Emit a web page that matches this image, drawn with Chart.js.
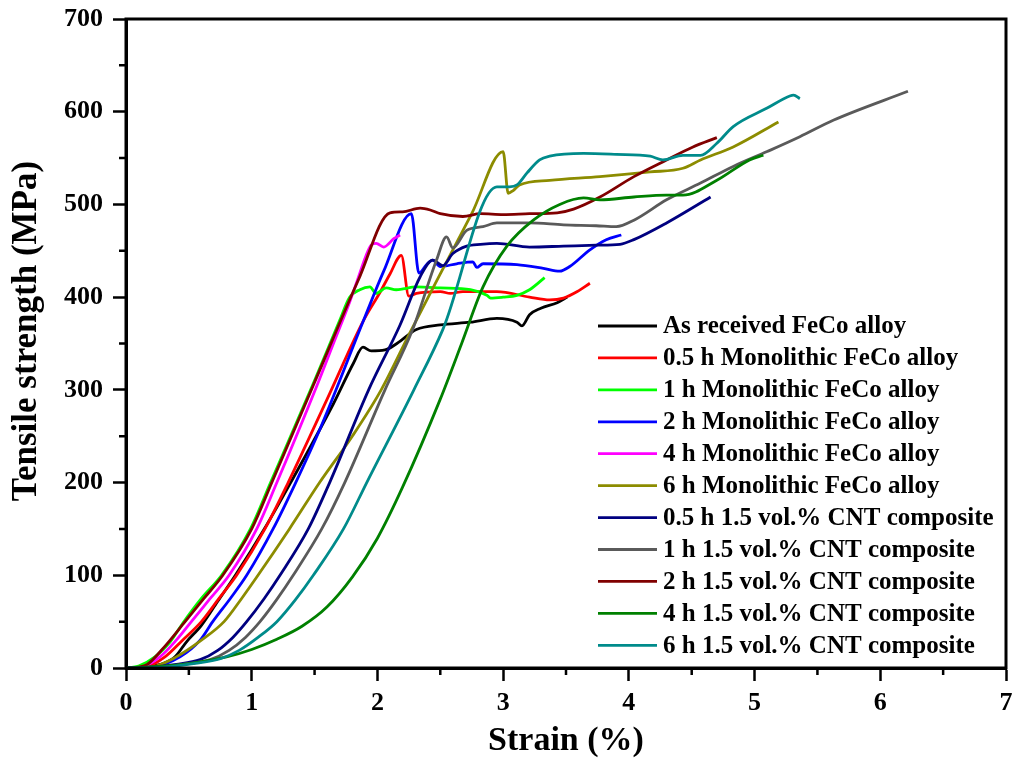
<!DOCTYPE html>
<html><head><meta charset="utf-8">
<script src="https://cdn.jsdelivr.net/npm/chart.js@4.4.1/dist/chart.umd.min.js"></script>
<style>html,body{margin:0;padding:0;background:#fff;}canvas{display:block;}</style>
</head><body>
<canvas id="c" width="1016" height="762"></canvas>
<script>
// ---------- data ----------
const seriesLabels = [
  'As received FeCo alloy',
  '0.5 h Monolithic FeCo alloy',
  '1 h Monolithic FeCo alloy',
  '2 h Monolithic FeCo alloy',
  '4 h Monolithic FeCo alloy',
  '6 h Monolithic FeCo alloy',
  '0.5 h 1.5 vol.% CNT composite',
  '1 h 1.5 vol.% CNT composite',
  '2 h 1.5 vol.% CNT composite',
  '4 h 1.5 vol.% CNT composite',
  '6 h 1.5 vol.% CNT composite'
];
const seriesColors = ['#000000','#ff0000','#00ff00','#0000ff','#ff00ff','#8c8c00','#000080','#5a5a5a','#800000','#008000','#008b8b'];

const xTicks = [0,1,2,3,4,5,6,7];
const yTicks = [0,100,200,300,400,500,600,700];

const asReceivedX = [0,0.15,0.3,0.39,0.48,0.6,0.73,0.87,1.1,1.31,1.65,1.81,1.885,1.95,2.06,2.155,2.31,2.5,2.74,2.95,3.11,3.15,3.21,3.3,3.43,3.51];
const asReceivedY = [0,1,5,12,28,46,72,100,150,200,285,329,346,342,343,350,365,370,373,377,373,369,381,388,394,400];

const mono05X = [0,0.15,0.31,0.45,0.6,0.74,0.88,1.105,1.29,1.6,1.89,2.02,2.1,2.19,2.25,2.31,2.5,2.58,2.68,2.95,3.21,3.37,3.48,3.59,3.69];
const mono05Y = [0,1,12,30,50,75,100,150,200,290,375,405,425,445,401,404,406,404,406,406,400,397,399,406,415];

const mono1X = [0,0.1,0.23,0.35,0.45,0.6,0.76,0.99,1.15,1.5,1.7,1.78,1.86,1.94,1.99,2.07,2.15,2.31,2.5,2.74,2.87,2.9,3.0,3.11,3.21,3.33];
const mono1Y = [0,2,12,28,48,75,100,150,200,310,375,400,408,411,404,410,408,411,410,408,402,399,400,402,408,421];

const mono2X = [0,0.2,0.43,0.59,0.69,0.83,0.96,1.17,1.35,1.55,1.89,2.05,2.27,2.33,2.39,2.44,2.5,2.63,2.76,2.79,2.84,3.11,3.32,3.45,3.53,3.69,3.82,3.94];
const mono2Y = [0,1,12,30,50,75,100,150,200,260,375,428,490,426,435,440,433,436,438,432,436,435,431,428,433,451,462,467];

const mono4X = [0,0.12,0.27,0.4,0.52,0.67,0.82,1.04,1.2,1.52,1.65,1.78,1.84,1.91,1.95,1.99,2.05,2.13,2.18];
const mono4Y = [0,1,12,30,50,75,100,150,200,305,350,395,418,445,456,458,454,463,467];

const mono6X = [0,0.2,0.4,0.6,0.78,0.92,1.05,1.3,1.54,1.8,2.03,2.26,2.5,2.75,3.0,3.04,3.08,3.13,3.37,3.77,4.17,4.43,4.57,4.83,5.19];
const mono6Y = [0,1,12,30,50,75,100,150,200,250,300,362,425,490,557,512,515,521,526,530,535,539,548,562,589];

const cnt05X = [0,0.2,0.4,0.59,0.73,0.85,0.96,1.1,1.225,1.45,1.62,1.93,2.18,2.34,2.44,2.52,2.6,2.71,2.82,2.95,3.21,3.48,3.74,3.93,4.04,4.3,4.65];
const cnt05Y = [0,1,4,9,19,33,50,75,100,150,200,300,370,422,440,434,447,455,457,458,454,455,456,457,462,480,508];

const cnt1X = [0,0.25,0.45,0.67,0.82,0.95,1.066,1.2,1.33,1.557,1.74,2.06,2.28,2.47,2.55,2.6,2.71,2.84,2.95,3.21,3.48,3.74,3.9,4.04,4.3,4.57,4.83,5.1,5.36,5.63,6.22];
const cnt1Y = [0,1,4,9,19,33,50,74,100,150,200,300,365,440,465,453,472,476,480,480,478,477,476,483,505,523,541,557,573,591,622];

const cnt2X = [0,0.1,0.17,0.3,0.47,0.62,0.77,1.0,1.16,1.49,1.85,2.1,2.2,2.34,2.42,2.5,2.68,2.82,3.0,3.21,3.43,3.56,3.77,4.04,4.3,4.51,4.7];
const cnt2Y = [0,1,4,22,50,75,100,150,200,305,419,491,492,496,494,490,487,490,489,490,491,495,508,530,548,562,572];

const cnt4X = [0,0.4,0.8,1.0,1.2,1.4,1.6,1.8,2.0,2.2,2.5,2.67,2.84,3.03,3.24,3.45,3.64,3.77,4.04,4.3,4.43,4.7,4.96,5.07];
const cnt4Y = [0,3,12,20,31,45,66,98,140,195,290,350,411,455,483,500,507,505,508,510,510,526,548,553];

const cnt6X = [0,0.3,0.55,0.75,0.9,1.05,1.2,1.35,1.49,1.73,1.915,2.29,2.52,2.95,3.05,3.11,3.19,3.29,3.37,3.64,3.9,4.17,4.27,4.43,4.57,4.7,4.83,5.1,5.28,5.31,5.36];
const cnt6Y = [0,1,5,10,19,33,50,74,100,150,200,300,365,519,519,521,534,548,552,555,554,552,548,553,553,566,584,604,617,618,614];

const seriesX = [asReceivedX,mono05X,mono1X,mono2X,mono4X,mono6X,cnt05X,cnt1X,cnt2X,cnt4X,cnt6X];
const seriesY = [asReceivedY,mono05Y,mono1Y,mono2Y,mono4Y,mono6Y,cnt05Y,cnt1Y,cnt2Y,cnt4Y,cnt6Y];

// ---------- chart ----------
const FONT = "'Liberation Serif','Times New Roman',serif";

const datasets = seriesLabels.map((lab, i) => ({
  label: lab,
  data: seriesX[i].map((x, j) => ({x: x, y: seriesY[i][j]})),
  borderColor: seriesColors[i],
  backgroundColor: seriesColors[i],
  borderWidth: 2.8,
  borderJoinStyle: 'round',
  pointRadius: 0,
  showLine: true,
  fill: false,
  cubicInterpolationMode: 'monotone',
  order: seriesLabels.length - i
}));

const decorPlugin = {
  id: 'decor',
  afterDraw(chart) {
    const ctx = chart.ctx;
    const a = chart.chartArea;
    const xs = chart.scales.x, ys = chart.scales.y;
    ctx.save();
    // minor ticks
    ctx.strokeStyle = '#000';
    ctx.lineWidth = 2.5;
    ctx.beginPath();
    for (let i = 0; i < xTicks.length - 1; i++) {
      const px = xs.getPixelForValue((xTicks[i] + xTicks[i + 1]) / 2);
      ctx.moveTo(px, a.bottom);
      ctx.lineTo(px, a.bottom + 7);
    }
    for (let i = 0; i < yTicks.length - 1; i++) {
      const py = ys.getPixelForValue((yTicks[i] + yTicks[i + 1]) / 2);
      ctx.moveTo(a.left, py);
      ctx.lineTo(a.left - 7, py);
    }
    ctx.stroke();
    // frame
    ctx.lineWidth = 3;
    ctx.strokeRect(a.left, a.top, a.right - a.left, a.bottom - a.top);

    // axis titles
    ctx.fillStyle = '#000';
    ctx.font = 'bold 34px ' + FONT;
    ctx.textAlign = 'center';
    ctx.textBaseline = 'middle';
    ctx.fillText('Strain (%)', (a.left + a.right) / 2, 741);
    ctx.save();
    ctx.font = 'bold 35px ' + FONT;
    ctx.translate(27, 331);
    ctx.rotate(-Math.PI / 2);
    ctx.fillText('Tensile strength (MPa)', 0, 0);
    ctx.restore();

    // legend
    ctx.font = 'bold 25px ' + FONT;
    ctx.textAlign = 'left';
    ctx.textBaseline = 'middle';
    for (let i = 0; i < seriesLabels.length; i++) {
      const y = 326 + i * 31.93;
      ctx.strokeStyle = seriesColors[i];
      ctx.lineWidth = 2.8;
      ctx.beginPath();
      ctx.moveTo(598, y);
      ctx.lineTo(657, y);
      ctx.stroke();
      ctx.fillStyle = '#000';
      ctx.fillText(seriesLabels[i], 663, y + 1);
    }
    ctx.restore();
  }
};

new Chart(document.getElementById('c'), {
  type: 'scatter',
  data: { datasets: datasets },
  options: {
    responsive: false,
    animation: false,
    layout: { padding: { top: 19, right: 10, left: 0, bottom: 0 } },
    plugins: { legend: { display: false }, tooltip: { enabled: false }, title: { display: false } },
    scales: {
      x: {
        type: 'linear', min: 0, max: 7,
        afterBuildTicks(s) { s.ticks = xTicks.map(v => ({value: v})); },
        ticks: { color: '#000', font: { family: FONT, size: 26, weight: 'bold' }, padding: 7, maxRotation: 0 },
        grid: { drawOnChartArea: false, drawTicks: true, tickLength: 13, tickWidth: 2.5, tickColor: '#000' },
        border: { display: true, color: '#000', width: 3 },
        afterFit(s) { s.height = 94; s.paddingLeft = 0; s.paddingRight = 0; }
      },
      y: {
        type: 'linear', min: 0, max: 700,
        afterBuildTicks(s) { s.ticks = yTicks.map(v => ({value: v})); },
        ticks: { color: '#000', font: { family: FONT, size: 26, weight: 'bold' }, padding: 10 },
        grid: { drawOnChartArea: false, drawTicks: true, tickLength: 13, tickWidth: 2.5, tickColor: '#000' },
        border: { display: true, color: '#000', width: 3 },
        afterFit(s) { s.width = 126; s.paddingTop = 0; s.paddingBottom = 0; }
      }
    }
  },
  plugins: [decorPlugin]
});
</script>
</body></html>
